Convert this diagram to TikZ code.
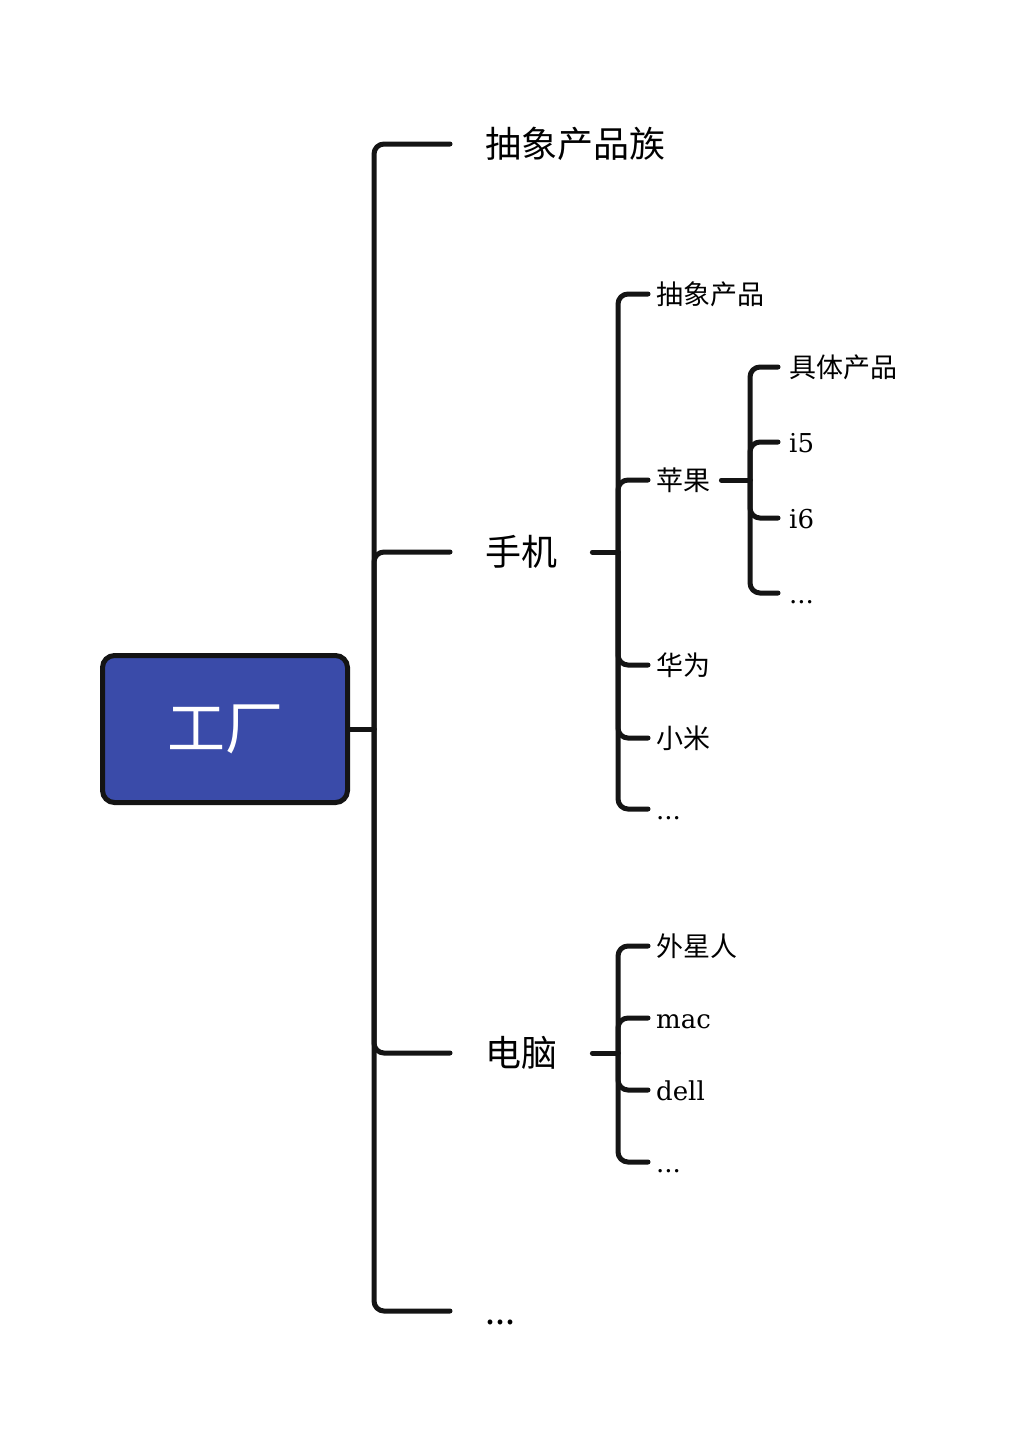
\documentclass[tikz,border=0pt]{standalone}
\usepackage{fontspec}
\setmainfont{DejaVu Serif}
\newfontfamily\cjk{Noto Sans CJK SC}
\definecolor{ink}{HTML}{141414}
\definecolor{boxblue}{HTML}{3A4BA9}
\tikzset{
  conn/.style={draw=ink, line width=5pt, line cap=round, rounded corners=10pt},
  stub/.style={draw=ink, line width=5pt, line cap=round},
  lab/.style={inner ysep=0pt, anchor=west},
  big/.style={lab, inner xsep=35pt, text height=31.7pt, text depth=4.3pt, font=\fontsize{36}{40}\selectfont\cjk},
  midc/.style={lab, inner xsep=8pt, text height=23.8pt, text depth=3.2pt, font=\fontsize{27}{30}\selectfont\cjk},
  midl/.style={lab, inner xsep=8pt, text height=23.8pt, text depth=3.2pt, font=\fontsize{26}{30}\selectfont},
  smc/.style={midc, inner xsep=11pt},
  sml/.style={midl, inner xsep=11pt},
  rootbox/.style={draw=ink, fill=boxblue, line width=5pt, rounded corners=12pt,
    minimum width=245pt, minimum height=147pt, text=white, font=\fontsize{58}{60}\selectfont\cjk}
}
\begin{document}
\begin{tikzpicture}[x=1pt,y=-1pt]
\fill[white] (0,0) rectangle (1012,1456);
\useasboundingbox (0,0) rectangle (1012,1456);

\node[rootbox] (root) at (225,729) {工厂};
\coordinate (j0) at (374,729);
\draw[stub] (root.east) -- (j0);

\node[big] (fam) at (450,144) {抽象产品族};
\node[big] (phone) at (450,552) {手机};
\node[big] (pc) at (450,1053) {电脑};
\node[big] (more) at (450,1311) {...};
\foreach \n in {fam,phone,pc,more} \draw[conn] (j0) |- (\n.west);

% phone subtree
\coordinate (j1) at (618,552);
\draw[stub] (phone.east) -- (j1);
\node[midc] (absp) at (648,294) {抽象产品};
\node[midc] (apple) at (648,480) {苹果};
\node[midc] (huawei) at (648,665) {华为};
\node[midc] (xiaomi) at (648,738) {小米};
\node[midl] (pmore) at (648,809) {...};
\foreach \n in {absp,apple,huawei,xiaomi,pmore} \draw[conn] (j1) |- (\n.west);

% apple subtree
\coordinate (j2) at (750,480);
\draw[stub] ([xshift=3pt]apple.east) -- (j2);
\node[smc] (conc) at (778,367) {具体产品};
\node[sml] (i5) at (778,442) {i5};
\node[sml] (i6) at (778,518) {i6};
\node[sml] (amore) at (778,593) {...};
\foreach \n in {conc,i5,i6,amore} \draw[conn] (j2) |- (\n.west);

% pc subtree
\coordinate (j3) at (618,1053);
\draw[stub] (pc.east) -- (j3);
\node[midc] (alien) at (648,946) {外星人};
\node[midl] (mac) at (648,1018) {mac};
\node[midl] (dell) at (648,1090) {dell};
\node[midl] (cmore) at (648,1162) {...};
\foreach \n in {alien,mac,dell,cmore} \draw[conn] (j3) |- (\n.west);
\end{tikzpicture}
\end{document}
